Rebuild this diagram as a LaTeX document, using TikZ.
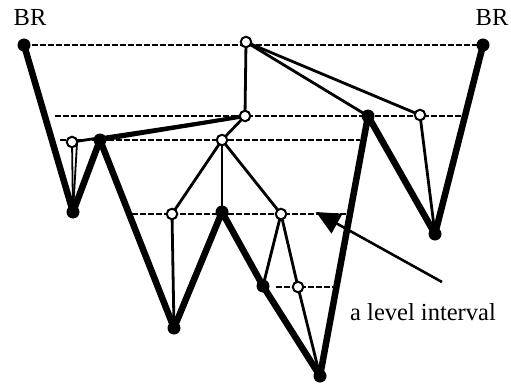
\documentclass[tikz,border=0pt]{standalone}
\usepackage{fontspec}
\setmainfont{Liberation Serif}
\usetikzlibrary{arrows.meta}
\begin{document}
\begin{tikzpicture}[x=1pt,y=-1pt,
  bdot/.style={circle,fill=black,inner sep=0pt,minimum size=13pt},
  odot/.style={circle,draw=black,fill=white,line width=2pt,inner sep=0pt,minimum size=10.5pt},
  lvl/.style={line width=1.6pt,dash pattern=on 6pt off 2pt},
  prof/.style={line width=6.5pt,line join=round,line cap=round},
  tree/.style={line width=2.8pt},
  lbl/.style={font=\fontsize{24.5}{28}\selectfont,inner sep=0pt}]
\useasboundingbox (0,0) rectangle (511,385);
% positions
\coordinate (p0) at (24,45);
\coordinate (p1) at (73,212);
\coordinate (p2) at (100,140);
\coordinate (p3) at (174,328);
\coordinate (p4) at (222,212);
\coordinate (p5) at (263,286);
\coordinate (p6) at (320,376);
\coordinate (p7) at (368,116);
\coordinate (p8) at (435,234);
\coordinate (p9) at (483,45);
\coordinate (o0) at (246,42);
\coordinate (o1) at (245,116);
\coordinate (o2) at (72,142);
\coordinate (o3) at (222,140);
\coordinate (o4) at (172,214);
\coordinate (o5) at (281,214);
\coordinate (o6) at (298,287);
\coordinate (o7) at (420,115);
\coordinate (o2b) at (77,143);
% free ends of level lines
\coordinate (a1) at (55,116);
\coordinate (b1) at (463,116);
\coordinate (a2) at (60,140);
\coordinate (b2) at (360,140);
\coordinate (a3) at (132,214);
\coordinate (b3) at (350,214);
\coordinate (a4) at (276,287);
\coordinate (b4) at (333,287);
\coordinate (tail) at (442,282);
\coordinate (tip) at (316,212);
% level lines
\draw[lvl] (p0) -- (p9);
\draw[lvl] (a1) -- (b1);
\draw[lvl] (a2) -- (b2);
\draw[lvl] (a3) -- (b3);
\draw[lvl] (a4) -- (b4);
% profile
\draw[prof] (p0) -- (p1) -- (p2) -- (p3) -- (p4) -- (p5) -- (p6) -- (p7) -- (p8) -- (p9);
% tree edges
\draw[tree] (o0) -- (o1);
\draw[tree] (o0) -- (p7);
\draw[tree] (o0) -- (o7);
\draw[tree] (o1) -- (o2);
\draw[line width=4pt] (o1) -- (p2);
\draw[tree] (o1) -- (o3);
\draw[line width=1.8pt] (o2) -- (p1);
\draw[line width=1.8pt] (o2b) -- (p1);
\draw[tree] (o3) -- (o4);
\draw[tree] (o3) -- (p4);
\draw[tree] (o3) -- (o5);
\draw[tree] (o4) -- (p3);
\draw[tree] (o5) -- (p5);
\draw[tree] (o5) -- (o6);
\draw[tree] (o6) -- (p6);
\draw[tree] (o7) -- (p8);
% dots
\foreach \n in {p0,p1,p2,p3,p4,p5,p6,p7,p8,p9}
  \node[bdot] (n\n) at (\n) {};
\foreach \n in {o0,o1,o2,o3,o4,o5,o6,o7}
  \node[odot] (n\n) at (\n) {};
% arrow
\draw[line width=2.6pt,-{Triangle[length=24pt,width=22pt]}] (tail) -- (tip);
% labels
\node[lbl] (br1) at (30,18) {BR};
\node[lbl] (br2) at (492,18) {BR};
\node[lbl] (lab) at (423,312) {a level interval};
\end{tikzpicture}
\end{document}
